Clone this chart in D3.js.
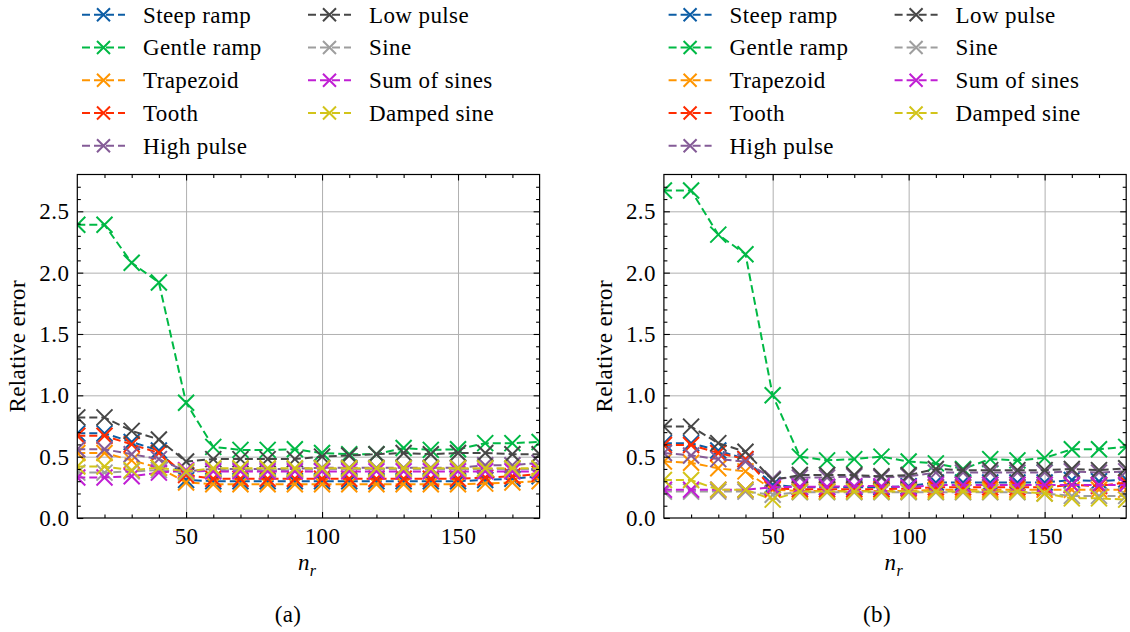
<!DOCTYPE html>
<html>
<head>
<meta charset="utf-8">
<script src="https://cdn.jsdelivr.net/npm/d3@7"></script>
<style>
  body { margin: 0; background: #fff; }
  svg text { font-family: "Liberation Serif", "Times New Roman", serif; fill: #000; letter-spacing: 0.4px; }
</style>
</head>
<body>
<svg id="fig" width="1130" height="632"></svg>
<script>
// Resolution values n_r (x axis)
const nr = [10, 20, 30, 40, 50, 60, 70, 80, 90, 100, 110, 120, 130, 140, 150, 160, 170, 180];

const seriesNames = ["Steep ramp", "Gentle ramp", "Trapezoid", "Tooth", "High pulse",
                     "Low pulse", "Sine", "Sum of sines", "Damped sine"];
const seriesColors = ["#0C5DA5", "#00B945", "#FF9500", "#FF2C00", "#845B97",
                      "#474747", "#9E9E9E", "#C01FD4", "#D2C41A"];

// Panel (a): relative error per signal
const steepRampA   = [0.69, 0.69, 0.62, 0.55, 0.31, 0.30, 0.30, 0.30, 0.30, 0.30, 0.30, 0.30, 0.30, 0.30, 0.30, 0.31, 0.32, 0.34];
const gentleRampA  = [2.39, 2.39, 2.08, 1.92, 0.94, 0.58, 0.555, 0.555, 0.56, 0.53, 0.52, 0.52, 0.57, 0.555, 0.56, 0.61, 0.61, 0.62];
const trapezoidA   = [0.53, 0.53, 0.47, 0.41, 0.29, 0.275, 0.275, 0.275, 0.275, 0.275, 0.275, 0.275, 0.275, 0.275, 0.275, 0.28, 0.29, 0.30];
const toothA       = [0.67, 0.67, 0.60, 0.53, 0.35, 0.32, 0.32, 0.32, 0.32, 0.32, 0.32, 0.32, 0.32, 0.32, 0.32, 0.33, 0.34, 0.36];
const highPulseA   = [0.56, 0.56, 0.52, 0.48, 0.38, 0.40, 0.40, 0.40, 0.40, 0.41, 0.41, 0.41, 0.41, 0.41, 0.41, 0.43, 0.43, 0.45];
const lowPulseA    = [0.82, 0.82, 0.71, 0.64, 0.46, 0.48, 0.48, 0.48, 0.48, 0.50, 0.51, 0.52, 0.53, 0.52, 0.53, 0.53, 0.52, 0.52];
const sineA        = [0.37, 0.37, 0.38, 0.39, 0.37, 0.39, 0.39, 0.39, 0.39, 0.40, 0.40, 0.40, 0.40, 0.40, 0.40, 0.40, 0.40, 0.40];
const sumOfSinesA  = [0.33, 0.33, 0.34, 0.37, 0.39, 0.38, 0.38, 0.38, 0.38, 0.38, 0.38, 0.38, 0.38, 0.38, 0.38, 0.38, 0.38, 0.38];
const dampedSineA  = [0.42, 0.42, 0.39, 0.41, 0.38, 0.405, 0.405, 0.405, 0.405, 0.405, 0.405, 0.405, 0.405, 0.405, 0.405, 0.405, 0.405, 0.405];

// Panel (b): relative error per signal
const steepRampB   = [0.61, 0.61, 0.55, 0.48, 0.27, 0.25, 0.25, 0.25, 0.25, 0.26, 0.29, 0.29, 0.29, 0.29, 0.29, 0.31, 0.30, 0.315];
const gentleRampB  = [2.67, 2.67, 2.31, 2.15, 1.00, 0.50, 0.47, 0.48, 0.50, 0.46, 0.445, 0.40, 0.48, 0.47, 0.49, 0.56, 0.56, 0.58];
const trapezoidB   = [0.46, 0.45, 0.405, 0.38, 0.23, 0.22, 0.22, 0.22, 0.22, 0.22, 0.23, 0.23, 0.23, 0.23, 0.23, 0.23, 0.23, 0.23];
const toothB       = [0.595, 0.595, 0.53, 0.48, 0.24, 0.235, 0.235, 0.235, 0.235, 0.24, 0.25, 0.25, 0.25, 0.25, 0.25, 0.27, 0.26, 0.29];
const highPulseB   = [0.53, 0.51, 0.48, 0.46, 0.32, 0.33, 0.33, 0.34, 0.33, 0.34, 0.37, 0.37, 0.37, 0.37, 0.37, 0.38, 0.37, 0.38];
const lowPulseB    = [0.745, 0.745, 0.61, 0.54, 0.31, 0.35, 0.35, 0.35, 0.34, 0.35, 0.40, 0.39, 0.39, 0.39, 0.39, 0.40, 0.39, 0.405];
const sineB        = [0.215, 0.215, 0.215, 0.215, 0.19, 0.21, 0.21, 0.21, 0.21, 0.21, 0.21, 0.21, 0.21, 0.21, 0.20, 0.18, 0.18, 0.18];
const sumOfSinesB  = [0.23, 0.23, 0.23, 0.23, 0.25, 0.255, 0.255, 0.26, 0.26, 0.25, 0.27, 0.27, 0.27, 0.27, 0.27, 0.27, 0.27, 0.27];
const dampedSineB  = [0.31, 0.31, 0.23, 0.23, 0.15, 0.215, 0.215, 0.215, 0.215, 0.215, 0.215, 0.215, 0.215, 0.215, 0.20, 0.16, 0.16, 0.15];

// Axis ticks
const xMajorTicks = [50, 100, 150];
const xMinorTicks = [20, 30, 40, 60, 70, 80, 90, 110, 120, 130, 140, 160, 170];
const yMajorTicks = [0, 0.5, 1.0, 1.5, 2.0, 2.5];
const yMinorTicks = [0.1, 0.2, 0.3, 0.4, 0.6, 0.7, 0.8, 0.9, 1.1, 1.2, 1.3, 1.4, 1.6, 1.7, 1.8, 1.9,
                     2.1, 2.2, 2.3, 2.4, 2.6, 2.7];

const panels = [
  { label: "(a)", series: [steepRampA, gentleRampA, trapezoidA, toothA, highPulseA, lowPulseA, sineA, sumOfSinesA, dampedSineA] },
  { label: "(b)", series: [steepRampB, gentleRampB, trapezoidB, toothB, highPulseB, lowPulseB, sineB, sumOfSinesB, dampedSineB] }
];

const svg = d3.select("#fig");
const FS = 23;
const plotLeft = 77.3, plotRight = 539.6, plotTop = 174.5, plotBottom = 518;
const panelShift = 586.6;
const crossPath = r => `M${-r},${-r}L${r},${r}M${-r},${r}L${r},${-r}`;

panels.forEach((panel, pi) => {
  const dx = pi * panelShift;
  const x = d3.scaleLinear().domain([10, 180]).range([plotLeft + dx, plotRight + dx]);
  const y = d3.scaleLinear().domain([0, 2.8]).range([plotBottom, plotTop]);
  const g = svg.append("g");
  const w = plotRight - plotLeft, h = plotBottom - plotTop;

  // grid
  const grid = g.append("g").attr("class", "grid");
  grid.append("g").attr("transform", `translate(0,${plotBottom})`)
    .call(d3.axisBottom(x).tickValues(xMajorTicks).tickSize(-h).tickFormat(""));
  grid.append("g").attr("transform", `translate(${plotLeft + dx},0)`)
    .call(d3.axisLeft(y).tickValues(yMajorTicks.slice(1)).tickSize(-w).tickFormat(""));
  grid.selectAll(".domain").remove();
  grid.selectAll("line").attr("stroke", "#b0b0b0").attr("stroke-width", 1);

  // clip region for the data
  const clipId = "clip" + pi;
  svg.append("defs").append("clipPath").attr("id", clipId)
    .append("rect").attr("x", plotLeft + dx).attr("y", plotTop).attr("width", w).attr("height", h);

  const data = g.append("g").attr("clip-path", `url(#${clipId})`);
  const line = d3.line().x((d, i) => x(nr[i])).y(d => y(d));
  panel.series.forEach((vals, si) => {
    const sg = data.append("g");
    sg.append("path").datum(vals).attr("d", line)
      .attr("fill", "none").attr("stroke", seriesColors[si]).attr("stroke-width", 2)
      .attr("stroke-dasharray", "8,4");
    sg.selectAll("path.mk").data(vals).join("path").attr("class", "mk")
      .attr("transform", (d, i) => `translate(${x(nr[i])},${y(d)})`)
      .attr("d", crossPath(8)).attr("fill", "none")
      .attr("stroke", seriesColors[si]).attr("stroke-width", 2);
  });

  // axes with inward ticks on all four sides
  const axes = g.append("g").attr("class", "axes");
  axes.append("g").attr("transform", `translate(0,${plotBottom})`)
    .call(d3.axisBottom(x).tickValues(xMajorTicks).tickSizeInner(-6).tickSizeOuter(0).tickPadding(9.5));
  axes.append("g").attr("transform", `translate(0,${plotBottom})`)
    .call(d3.axisBottom(x).tickValues(xMinorTicks).tickSizeInner(-3.5).tickSizeOuter(0).tickFormat(""));
  axes.append("g").attr("transform", `translate(0,${plotTop})`)
    .call(d3.axisTop(x).tickValues(xMajorTicks).tickSizeInner(-6).tickSizeOuter(0).tickFormat(""));
  axes.append("g").attr("transform", `translate(0,${plotTop})`)
    .call(d3.axisTop(x).tickValues(xMinorTicks).tickSizeInner(-3.5).tickSizeOuter(0).tickFormat(""));
  axes.append("g").attr("transform", `translate(${plotLeft + dx},0)`)
    .call(d3.axisLeft(y).tickValues(yMajorTicks).tickSizeInner(-6).tickSizeOuter(0).tickPadding(8)
      .tickFormat(d3.format(".1f")));
  axes.append("g").attr("transform", `translate(${plotLeft + dx},0)`)
    .call(d3.axisLeft(y).tickValues(yMinorTicks).tickSizeInner(-3.5).tickSizeOuter(0).tickFormat(""));
  axes.append("g").attr("transform", `translate(${plotRight + dx},0)`)
    .call(d3.axisRight(y).tickValues(yMajorTicks).tickSizeInner(-6).tickSizeOuter(0).tickFormat(""));
  axes.append("g").attr("transform", `translate(${plotRight + dx},0)`)
    .call(d3.axisRight(y).tickValues(yMinorTicks).tickSizeInner(-3.5).tickSizeOuter(0).tickFormat(""));
  axes.selectAll(".domain").remove();
  axes.selectAll("line").attr("stroke", "#000").attr("stroke-width", 1.1);
  axes.selectAll("text").attr("font-size", FS);

  g.append("rect").attr("x", plotLeft + dx).attr("y", plotTop).attr("width", w).attr("height", h)
    .attr("fill", "none").attr("stroke", "#000").attr("stroke-width", 1.2);

  // axis titles
  const xl = g.append("text").attr("x", (plotLeft + plotRight) / 2 + dx - 10.5).attr("y", 570)
    .attr("font-size", FS).attr("font-style", "italic");
  xl.append("tspan").text("n");
  xl.append("tspan").attr("font-size", 16).attr("dy", 6).text("r");

  g.append("text").attr("transform", `translate(${25 + dx},${(plotTop + plotBottom) / 2}) rotate(-90)`)
    .attr("text-anchor", "middle").attr("font-size", FS).text("Relative error");

  g.append("text").attr("x", 288 + pi * 589).attr("y", 622).attr("text-anchor", "middle")
    .attr("font-size", FS).text(panel.label);

  // legend in two columns above the axes
  const leg = g.append("g");
  seriesNames.forEach((name, si) => {
    const col = si < 5 ? 0 : 1;
    const row = si < 5 ? si : si - 5;
    const lx = 82 + dx + col * 226;
    const ly = 14.7 + row * 32.75;
    const e = leg.append("g").attr("transform", `translate(${lx},${ly})`);
    e.append("line").attr("x1", 0).attr("x2", 43).attr("y1", 0).attr("y2", 0)
      .attr("stroke", seriesColors[si]).attr("stroke-width", 2).attr("stroke-dasharray", "8,4");
    e.append("path").attr("transform", "translate(21.5,0)").attr("d", crossPath(6.5))
      .attr("fill", "none").attr("stroke", seriesColors[si]).attr("stroke-width", 2);
    e.append("text").attr("x", 61).attr("y", 8).attr("font-size", FS).text(name);
  });
});
</script>
</body>
</html>
